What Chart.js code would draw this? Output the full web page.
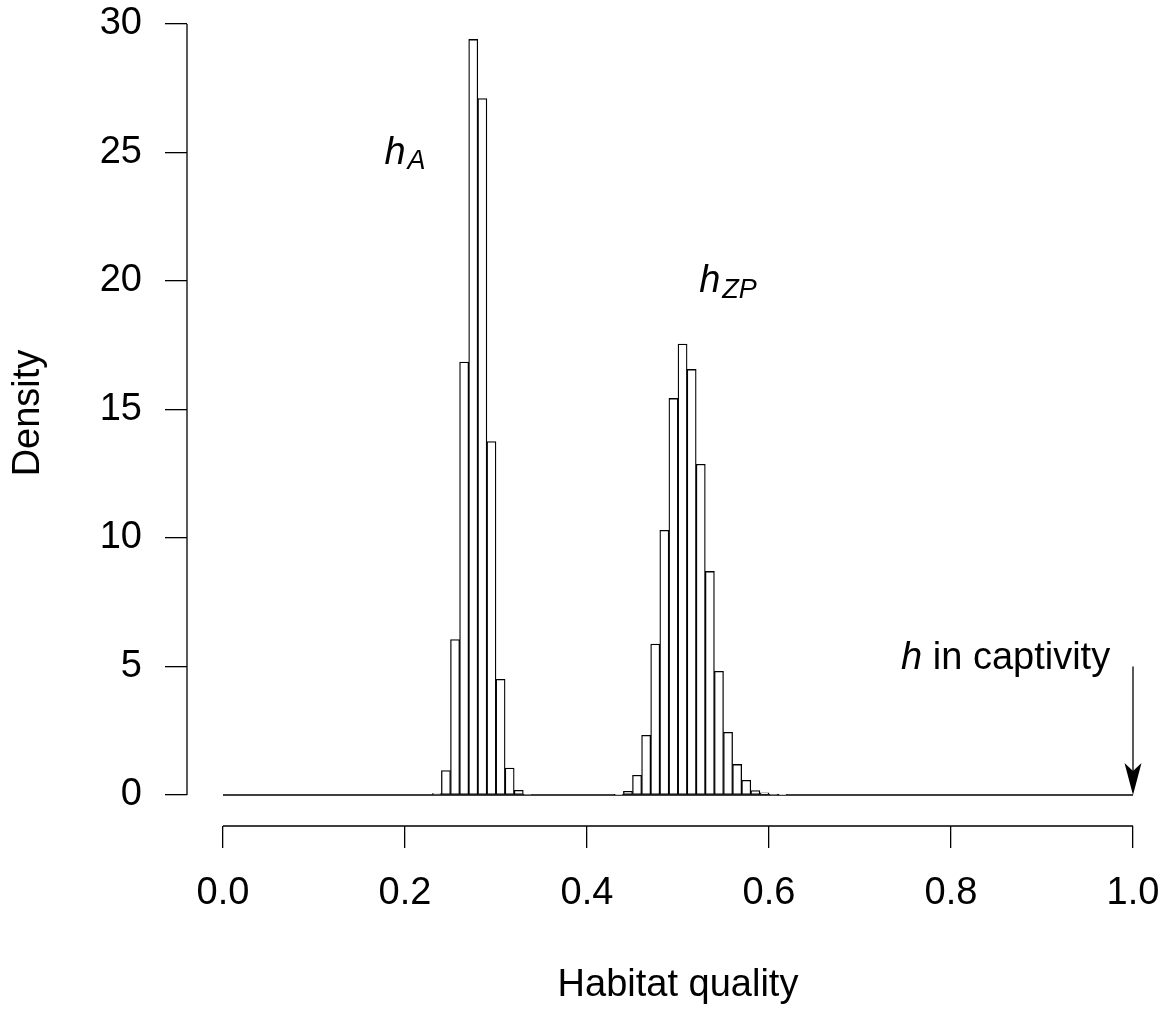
<!DOCTYPE html>
<html>
<head>
<meta charset="utf-8">
<script src="https://cdn.jsdelivr.net/npm/chart.js@4.4.0/dist/chart.umd.min.js"></script>
<style>
  html, body { margin: 0; padding: 0; background: #fff; }
  canvas { display: block; }
</style>
</head>
<body>
<canvas id="histChart" width="1169" height="1011"></canvas>
<script>
// Histogram bins (left edges) and densities
const binWidth = 0.01;
const binsA = [0.23, 0.24, 0.25, 0.26, 0.27, 0.28, 0.29, 0.30, 0.31, 0.32, 0.33];
const densityA = [0.06, 0.95, 6.05, 16.85, 29.4, 27.1, 13.75, 4.5, 1.05, 0.18, 0.03];
const binsZP = [0.43, 0.44, 0.45, 0.46, 0.47, 0.48, 0.49, 0.50, 0.51, 0.52, 0.53, 0.54, 0.55, 0.56, 0.57, 0.58, 0.59, 0.60, 0.61];
const densityZP = [0.01, 0.14, 0.77, 2.32, 5.87, 10.3, 15.43, 17.55, 16.56, 12.87, 8.7, 4.81, 2.44, 1.19, 0.57, 0.17, 0.08, 0.04, 0.01];

// empty bins run along the baseline from 0 to 1
const baseRange = [0, 1];

const xTicks = [0, 0.2, 0.4, 0.6, 0.8, 1.0];
const yTicks = [0, 5, 10, 15, 20, 25, 30];

// text labels placed in data units
const notes = [
  { main: 'h', sub: 'A', x: 0.2, y: 25 },
  { main: 'h', sub: 'ZP', x: 0.555, y: 20 }
];
const captivity = { x: 0.86, y: 5.3, arrowX: 1, arrowFrom: 5, arrowTo: 0 };

const FONT = '"Liberation Sans", Arial, Helvetica, sans-serif';

const bars = [];
binsA.forEach((b, i) => bars.push({ x: b + binWidth / 2, y: densityA[i] }));
binsZP.forEach((b, i) => bars.push({ x: b + binWidth / 2, y: densityZP[i] }));

// R-like extras: axis lines from first to last tick, arrow and plotmath-ish labels
const rStyle = {
  id: 'rStyle',
  afterDraw(chart) {
    const { ctx, chartArea, scales: { x, y } } = chart;
    ctx.save();
    ctx.strokeStyle = '#000';
    ctx.fillStyle = '#000';
    ctx.lineWidth = 1.3;

    ctx.beginPath();
    ctx.moveTo(x.getPixelForValue(xTicks[0]), chartArea.bottom);
    ctx.lineTo(x.getPixelForValue(xTicks[xTicks.length - 1]), chartArea.bottom);
    ctx.moveTo(chartArea.left, y.getPixelForValue(yTicks[0]));
    ctx.lineTo(chartArea.left, y.getPixelForValue(yTicks[yTicks.length - 1]));
    ctx.stroke();

    // arrow pointing at h in captivity
    const ax = x.getPixelForValue(captivity.arrowX);
    const aTop = y.getPixelForValue(captivity.arrowFrom);
    const aTip = y.getPixelForValue(captivity.arrowTo);
    ctx.beginPath();
    ctx.moveTo(ax, aTop);
    ctx.lineTo(ax, aTip - 20);
    ctx.stroke();
    ctx.beginPath();
    ctx.moveTo(ax, aTip);
    ctx.lineTo(ax - 8.5, aTip - 32);
    ctx.lineTo(ax, aTip - 24);
    ctx.lineTo(ax + 8.5, aTip - 32);
    ctx.closePath();
    ctx.fill();

    ctx.textAlign = 'left';
    ctx.textBaseline = 'alphabetic';
    notes.forEach(n => {
      const px = x.getPixelForValue(n.x);
      const py = y.getPixelForValue(n.y);
      ctx.font = 'italic 38px ' + FONT;
      const wMain = ctx.measureText(n.main).width;
      ctx.font = 'italic 27px ' + FONT;
      const wSub = ctx.measureText(n.sub).width;
      const start = px - (wMain + 2 + wSub) / 2;
      ctx.font = 'italic 38px ' + FONT;
      ctx.fillText(n.main, start, py + 11);
      ctx.font = 'italic 27px ' + FONT;
      ctx.fillText(n.sub, start + wMain + 2, py + 16.5);
    });

    const cx = x.getPixelForValue(captivity.x);
    const cy = y.getPixelForValue(captivity.y);
    ctx.font = 'italic 38px ' + FONT;
    const wH = ctx.measureText('h').width;
    ctx.font = '38px ' + FONT;
    const wRest = ctx.measureText(' in captivity').width;
    const start = cx - (wH + wRest) / 2;
    ctx.font = 'italic 38px ' + FONT;
    ctx.fillText('h', start, cy + 10.5);
    ctx.font = '38px ' + FONT;
    ctx.fillText(' in captivity', start + wH, cy + 10.5);
    ctx.restore();
  }
};

const ctxHist = document.getElementById('histChart').getContext('2d');
const histChart = new Chart(ctxHist, {
  type: 'bar',
  data: {
    datasets: [{
      type: 'bar',
      data: bars,
      backgroundColor: '#fff',
      borderColor: '#000',
      borderWidth: 1.3,
      borderSkipped: false,
      barPercentage: 1,
      categoryPercentage: 1,
      grouped: false
    }, {
      type: 'line',
      data: baseRange.map(v => ({ x: v, y: 0 })),
      borderColor: '#000',
      borderWidth: 1.3,
      pointRadius: 0,
      fill: false
    }]
  },
  options: {
    responsive: false,
    animation: false,
    devicePixelRatio: 1,
    layout: { padding: 0 },
    plugins: {
      legend: { display: false },
      tooltip: { enabled: false }
    },
    scales: {
      x: {
        type: 'linear',
        min: -0.03956,
        max: 1.03956,
        offset: false,
        border: { display: false },
        grid: { offset: false, drawOnChartArea: false, drawTicks: true, tickLength: 22, color: '#000', lineWidth: 1.3 },
        ticks: {
          padding: 23,
          maxRotation: 0,
          autoSkip: false,
          color: '#000',
          font: { family: FONT, size: 38 },
          callback: v => v.toFixed(1)
        },
        afterBuildTicks: s => { s.ticks = xTicks.map(v => ({ value: v })); },
        afterFit: s => { s.height = 185; s.paddingLeft = 0; s.paddingRight = 0; },
        title: {
          display: true,
          text: 'Habitat quality',
          color: '#000',
          font: { family: FONT, size: 38 },
          padding: { top: 0, bottom: 3 }
        }
      },
      y: {
        type: 'linear',
        min: -1.2062,
        max: 30.934,
        border: { display: false },
        grid: { offset: false, drawOnChartArea: false, drawTicks: true, tickLength: 22, color: '#000', lineWidth: 1.3 },
        ticks: {
          padding: 23,
          autoSkip: false,
          color: '#000',
          font: { family: FONT, size: 38 },
          callback: v => String(v)
        },
        afterBuildTicks: s => { s.ticks = yTicks.map(v => ({ value: v })); },
        afterFit: s => { s.width = 187; s.paddingTop = 0; s.paddingBottom = 0; },
        title: {
          display: true,
          text: 'Density',
          color: '#000',
          font: { family: FONT, size: 38 },
          padding: { top: 6, bottom: 0 }
        }
      }
    }
  },
  plugins: [rStyle]
});
</script>
</body>
</html>
